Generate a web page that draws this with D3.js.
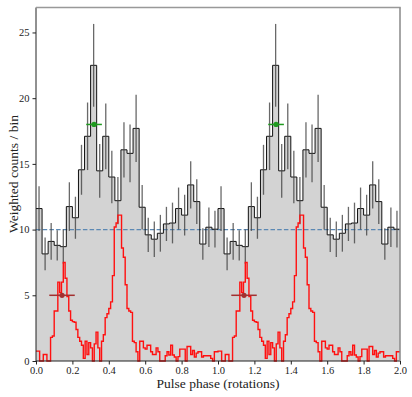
<!DOCTYPE html>
<html><head><meta charset="utf-8">
<script src="https://cdn.jsdelivr.net/npm/d3@7"></script>
<style>
html,body{margin:0;padding:0;background:#fff;}
svg{display:block;}
text{font-family:"Liberation Serif","Times New Roman",serif;fill:#222;}
</style></head>
<body>
<svg id="chart" width="412" height="397"></svg>
<script>
// ---- data (one rotation; plotted twice) ----
const gammaCounts = [11.6, 8.15, 9.1, 8.8, 8.7, 11.75, 10.9, 14.55, 17.1, 22.5,
  14.47, 17.1, 14.0, 12.2, 16.07, 15.8, 17.7, 11.7, 9.6, 9.27,
  9.72, 10.43, 10.5, 11.6, 11.1, 13.4, 12.13, 8.9, 10.18, 10.03];
const gammaErrors = [1.7, 1.25, 1.4, 1.15, 1.3, 1.85, 1.6, 1.9, 2.57, 3.15,
  2.05, 2.5, 2.0, 1.8, 2.1, 2.2, 2.56, 1.7, 1.3, 1.35,
  1.4, 1.3, 1.55, 1.6, 1.55, 1.8, 1.7, 1.2, 1.5, 1.4];
const radioProfile = [0.75, 0.75, 0, 0, 0.5, 0.5, 0, 0, 1.8, 1.9,
  3.8, 3.8, 6.0, 5.2, 6.0, 7.5, 6.3, 4.9, 3.8, 3.1,
  3.0, 2.95, 2.4, 1.8, 1.5, 1.2, 0.2, 1.5, 0.5, 1.4,
  1.0, 0, 1.3, 2.2, 1.0, 0, 1.5, 2.0, 3.3, 3.6,
  4.0, 4.5, 6.5, 10.2, 10.5, 11.1, 11.1, 8.6, 7.9, 5.8,
  4.0, 3.8, 3.7, 1.5, 1.4, 0.7, 0, 1.5, 1.5, 1.0,
  0.9, 1.2, 1.2, 0.7, 0.5, 0.5, 1.0, 0.7, 0, 0,
  0, 0.4, 0.7, 0.46, 1.2, 0.46, 0.3, 0, 0.33, 0.9,
  0.9, 0.9, 0, 1.1, 1.1, 0.5, 0.8, 0.3, 0.6, 0.7,
  0.7, 0.3, 0.4, 0.4, 0.4, 0.4, 0.2, 0, 0.7, 0.7];
const backgroundLevel = 10;
const gammaPeak = {phase: 0.319, phaseErr: 0.043, counts: 18.0};
const radioPeak = {phase: 0.143, phaseErr: 0.07, counts: 5.0};
const rotations = [0, 1];
const xTicks = [0, 0.2, 0.4, 0.6, 0.8, 1.0, 1.2, 1.4, 1.6, 1.8, 2.0];
const yTicks = [0, 5, 10, 15, 20, 25];

// ---- layout ----
const svg = d3.select("#chart");
const mLeft = 36, mRight = 400, mTop = 7.5, mBottom = 361;
const x = d3.scaleLinear().domain([0, 2]).range([mLeft, mRight]);
const y = d3.scaleLinear().domain([0, 26.9]).range([mBottom, mTop]);

// expand data over two rotations
const nG = gammaCounts.length, nR = radioProfile.length;
const gBins = [];
rotations.forEach(r => gammaCounts.forEach((v, i) =>
  gBins.push({x0: r + i / nG, x1: r + (i + 1) / nG, v, e: gammaErrors[i]})));
const rBins = [];
rotations.forEach(r => radioProfile.forEach((v, i) =>
  rBins.push({x0: r + i / nR, v})));
const gPts = gBins.map(d => [d.x0, d.v]).concat([[2, gBins[gBins.length - 1].v]]);
const rPts = rBins.map(d => [d.x0, d.v]).concat([[2, rBins[rBins.length - 1].v]]);

// gray filled histogram
svg.append("path")
  .datum(gPts)
  .attr("fill", "#d3d3d3")
  .attr("d", d3.area().curve(d3.curveStepAfter)
    .x(d => x(d[0])).y0(y(0)).y1(d => y(d[1])));

// background level
svg.append("line")
  .attr("x1", x(0)).attr("x2", x(2))
  .attr("y1", y(backgroundLevel)).attr("y2", y(backgroundLevel))
  .attr("stroke", "#5b88b3").attr("stroke-width", 1.2)
  .attr("stroke-dasharray", "4.5,2.2");

// histogram outline
svg.append("path")
  .datum(gPts)
  .attr("fill", "none").attr("stroke", "#111").attr("stroke-width", 1)
  .attr("d", d3.line().curve(d3.curveStepAfter)
    .x(d => x(d[0])).y(d => y(d[1])));

// error bars
svg.append("g").selectAll("line").data(gBins).join("line")
  .attr("x1", d => x((d.x0 + d.x1) / 2)).attr("x2", d => x((d.x0 + d.x1) / 2))
  .attr("y1", d => y(d.v - d.e)).attr("y2", d => y(d.v + d.e))
  .attr("stroke", "#444").attr("stroke-opacity", 0.8).attr("stroke-width", 1.3);

// radio profile
svg.append("path")
  .datum(rPts)
  .attr("fill", "none").attr("stroke", "#ff1010").attr("stroke-width", 1.4)
  .attr("d", d3.line().curve(d3.curveStepAfter)
    .x(d => x(d[0])).y(d => y(d[1])));

// peak markers
function marker(p, color) {
  const g = svg.append("g");
  rotations.forEach(r => {
    g.append("line")
      .attr("x1", x(r + p.phase - p.phaseErr)).attr("x2", x(r + p.phase + p.phaseErr))
      .attr("y1", y(p.counts)).attr("y2", y(p.counts))
      .attr("stroke", color).attr("stroke-width", 1.5);
    g.append("circle")
      .attr("cx", x(r + p.phase)).attr("cy", y(p.counts)).attr("r", 2.6)
      .attr("fill", color);
  });
}
marker(gammaPeak, "#1f9a1f");
marker(radioPeak, "#a33030");

// axes
const xAxis = svg.append("g").attr("transform", `translate(0,${mBottom})`)
  .call(d3.axisBottom(x).tickValues(xTicks).tickFormat(d3.format(".1f"))
    .tickSize(3.5).tickPadding(2));
const yAxis = svg.append("g").attr("transform", `translate(${mLeft},0)`)
  .call(d3.axisLeft(y).tickValues(yTicks).tickSize(3.5).tickPadding(3));
[xAxis, yAxis].forEach(a => {
  a.select(".domain").remove();
  a.selectAll("text").style("font-family", '"Liberation Serif",serif')
    .style("font-size", "10.5px").attr("fill", "#333");
  a.selectAll("line").attr("stroke", "#222");
});
// frame: left/bottom dark, top/right gray
svg.append("line").attr("x1", mLeft).attr("x2", mLeft).attr("y1", mTop).attr("y2", mBottom)
  .attr("stroke", "#222").attr("stroke-width", 1);
svg.append("line").attr("x1", mLeft).attr("x2", mRight).attr("y1", mBottom).attr("y2", mBottom)
  .attr("stroke", "#222").attr("stroke-width", 1);
svg.append("line").attr("x1", mLeft).attr("x2", mRight + 0.7).attr("y1", mTop).attr("y2", mTop)
  .attr("stroke", "#999").attr("stroke-width", 1.5);
svg.append("line").attr("x1", mRight).attr("x2", mRight).attr("y1", mTop).attr("y2", mBottom)
  .attr("stroke", "#888").attr("stroke-width", 1.5);

// labels
svg.append("text").attr("x", (mLeft + mRight) / 2).attr("y", 388)
  .attr("text-anchor", "middle").style("font-size", "13.5px").attr("fill", "#444")
  .text("Pulse phase (rotations)");
svg.append("text").attr("transform", "translate(18,174) rotate(-90)")
  .attr("text-anchor", "middle").style("font-size", "13.5px").attr("fill", "#444")
  .text("Weighted counts / bin");
</script>
</body></html>
